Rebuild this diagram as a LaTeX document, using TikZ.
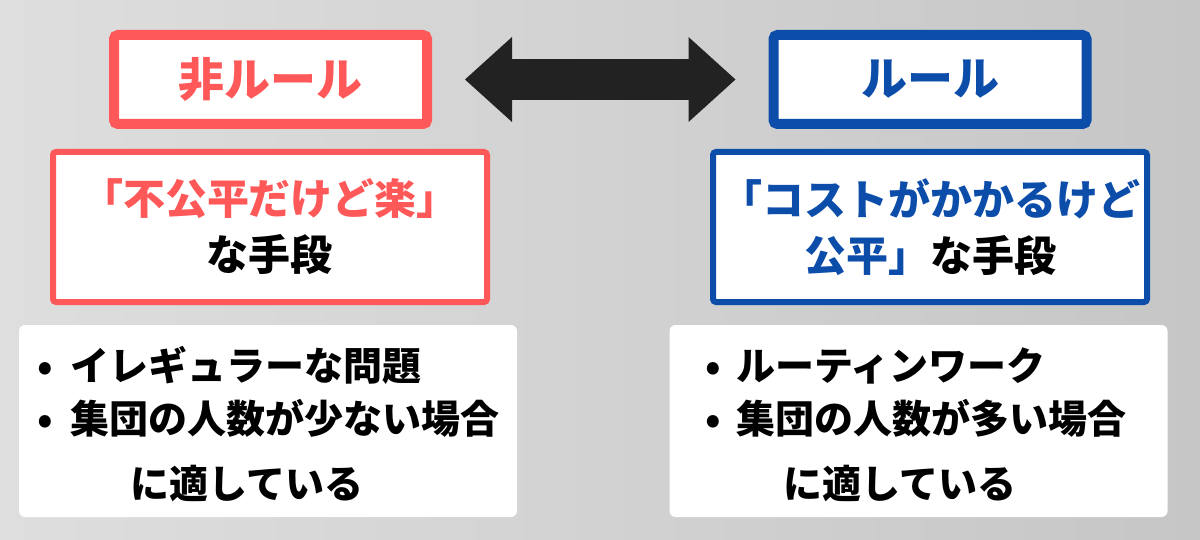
\documentclass[tikz,border=0pt]{standalone}
\usepackage{fontspec}
\usepackage{xcolor}
\usepackage{tikz}
\usetikzlibrary{arrows.meta}
\usetikzlibrary{positioning}
\newfontfamily\jpfont{Noto Sans CJK JP}
\definecolor{hired}{RGB}{255,88,88}
\definecolor{ruleblue}{RGB}{12,77,170}
\definecolor{arrowgray}{RGB}{34,34,34}
\definecolor{bgtop}{RGB}{222,222,222}
\definecolor{bgbot}{RGB}{198,198,198}

\begin{document}
\begin{tikzpicture}[x=1pt,y=-1pt,
	titlebox/.style={draw,line width=10pt,fill=white,rounded corners=4pt,minimum width=313pt,minimum height=89pt,inner sep=0pt,font=\jpfont\bfseries\fontsize{46}{50}\selectfont},
	meansbox/.style={draw,line width=6pt,fill=white,rounded corners=3pt,minimum width=434pt,minimum height=150pt,inner sep=0pt,align=center,text=black,font=\jpfont\bfseries\fontsize{42}{56}\selectfont},
	listbox/.style={fill=white,rounded corners=6pt,minimum width=498pt,minimum height=192pt,inner sep=0pt},
	listline/.style={anchor=base west,inner sep=0pt,font=\jpfont\bfseries\fontsize{39}{45}\selectfont},
	bulletdot/.style={anchor=base,inner sep=0pt,font=\jpfont\bfseries\fontsize{39}{45}\selectfont},
	dblarrow/.style={draw=arrowgray,line width=41pt,{Triangle[length=47pt,width=85pt,line width=0pt]}-{Triangle[length=47pt,width=85pt,line width=0pt]},shorten <=33pt,shorten >=33pt}]
	\useasboundingbox (0,0) rectangle (1200,540);
	\shade[left color=bgtop,right color=bgbot] (0,0) rectangle (1200,540);
	
	\node[titlebox,draw=hired,text=hired] (hibox) at (270.5,79.5) {非ルール};
	\node[titlebox,draw=ruleblue,text=ruleblue] (rulebox) at (930,79.5) {ルール};
	\draw[dblarrow] (hibox) -- (rulebox);
	
	\node[meansbox,draw=hired] (himeans) at (270,227) {\textcolor{hired}{「不公平だけど楽」}\\な手段};
	\node[meansbox,draw=ruleblue] (rulemeans) at (930,227) {\textcolor{ruleblue}{「コストがかかるけど}\\\textcolor{ruleblue}{公平」}な手段};
	
	\node[listbox] (hilist) at (268,421) {};
	\node[listbox] (rulelist) at (918.5,421) {};
	
		\node[bulletdot] (hidotA) at (45,380) {•};
		\node[listline] (irregular) at (70,380) {イレギュラーな問題};
		\node[bulletdot] (hidotB) at (45,433) {•};
		\node[listline] (fewpeople) at (70,433) {集団の人数が少ない場合};
		\node[listline] (hisuited) at (130,498) {に適している};
	
		\node[bulletdot] (ruledotA) at (713,380) {•};
		\node[listline] (routine) at (736,380) {ルーティンワーク};
		\node[bulletdot] (ruledotB) at (713,433) {•};
		\node[listline] (manypeople) at (736,433) {集団の人数が多い場合};
		\node[listline] (rulesuited) at (783,498) {に適している};
\end{tikzpicture}
\end{document}
